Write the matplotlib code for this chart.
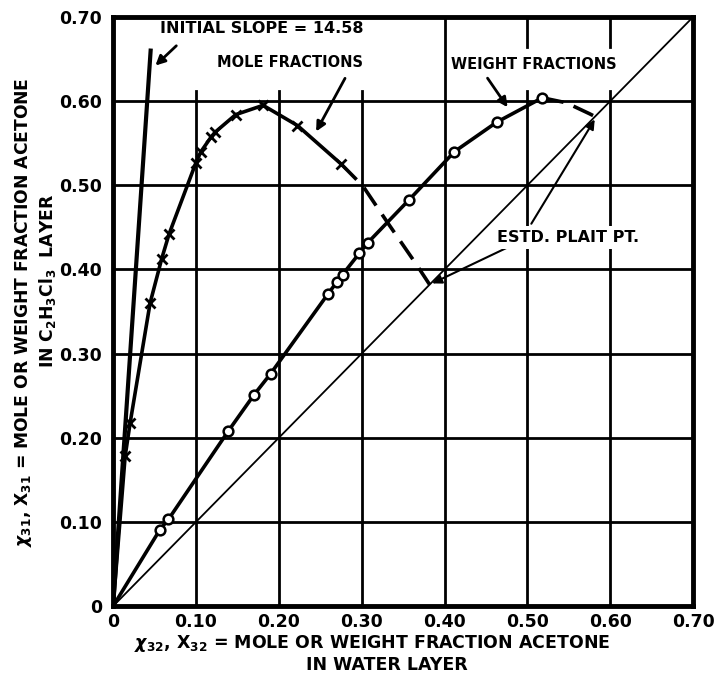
import numpy as np
import matplotlib
matplotlib.use('Agg')
import matplotlib.pyplot as plt

# mole fraction data (x32, x31)
mole_x = [0.0, 0.0145, 0.0205, 0.0446, 0.0587, 0.0675, 0.0996, 0.106, 0.118, 0.123, 0.148, 0.181, 0.2225, 0.2755]
mole_y = [0.0, 0.178, 0.2175, 0.360, 0.413, 0.442, 0.526, 0.540, 0.557, 0.563, 0.584, 0.595, 0.571, 0.525]
# estimated (dashed) continuation to plait point
mole_est_x = [0.2755, 0.3016, 0.331, 0.366, 0.382]
mole_est_y = [0.525, 0.499, 0.456, 0.406, 0.382]

# weight fraction data
wt_x = [0.0, 0.0566, 0.0667, 0.139, 0.170, 0.190, 0.2594, 0.270, 0.277, 0.297, 0.3076, 0.357, 0.412, 0.463, 0.518]
wt_y = [0.0, 0.091, 0.103, 0.208, 0.251, 0.276, 0.371, 0.385, 0.394, 0.419, 0.432, 0.4825, 0.540, 0.575, 0.604]
wt_est_x = [0.518, 0.547, 0.575, 0.583]
wt_est_y = [0.604, 0.598, 0.585, 0.581]

initial_slope = 14.58
slope_top = 0.66

ticks = [0, 0.1, 0.2, 0.3, 0.4, 0.5, 0.6, 0.7]
tick_labels = ['0', '0.10', '0.20', '0.30', '0.40', '0.50', '0.60', '0.70']


def main():
    plt.rcParams['font.family'] = 'DejaVu Sans'
    plt.rcParams['font.weight'] = 'bold'
    fig = plt.figure(figsize=(7.16, 6.78), dpi=100)
    ax = fig.add_axes([0.158, 0.106, 0.810, 0.869])
    ax.set_xlim(0, 0.7)
    ax.set_ylim(0, 0.7)

    # grid, broken in the top row where the labels sit
    for t in ticks[1:-1]:
        ax.plot([0, 0.7], [t, t], color='black', lw=2, zorder=1)
        if t < 0.35:
            ax.plot([t, t], [0, 0.612], color='black', lw=2, zorder=1)
        elif t < 0.45:
            ax.plot([t, t], [0, 0.7], color='black', lw=2, zorder=1)
        else:
            ax.plot([t, t], [0, 0.612], color='black', lw=2, zorder=1)
            ax.plot([t, t], [0.664, 0.7], color='black', lw=2, zorder=1)

    # y = x diagonal
    ax.plot([0, 0.7], [0, 0.7], color='black', lw=1.3, zorder=2)

    # initial slope line
    ax.plot([0, slope_top / initial_slope], [0, slope_top], color='black', lw=3, zorder=3)

    # mole fractions
    ax.plot(mole_x, mole_y, color='black', lw=2.6, zorder=3)
    ax.plot(mole_x[1:], mole_y[1:], ls='none', marker='x', ms=7, mew=2, color='black', zorder=4)
    ax.plot(mole_est_x, mole_est_y, color='black', lw=2.6, dashes=(6, 3), zorder=3)

    # weight fractions
    ax.plot(wt_x, wt_y, color='black', lw=2.6, zorder=3)
    ax.plot(wt_x[1:], wt_y[1:], ls='none', marker='o', ms=7, mew=1.8, mfc='white', mec='black', zorder=4)
    ax.plot(wt_est_x, wt_est_y, color='black', lw=2.6, dashes=(6, 3), zorder=3)

    arr = dict(arrowstyle='-|>', color='black', lw=2, mutation_scale=14)
    ax.text(0.057, 0.686, 'INITIAL SLOPE = 14.58', fontsize=11.5, ha='left', va='center')
    ax.annotate('', xy=(0.0486, 0.640), xytext=(0.0787, 0.668), arrowprops=arr)
    ax.text(0.213, 0.646, 'MOLE FRACTIONS', fontsize=10.5, ha='center', va='center')
    ax.annotate('', xy=(0.2434, 0.561), xytext=(0.2815, 0.630), arrowprops=arr)
    ax.text(0.508, 0.644, 'WEIGHT FRACTIONS', fontsize=10.5, ha='center', va='center')
    ax.annotate('', xy=(0.478, 0.590), xytext=(0.450, 0.630), arrowprops=arr)
    ax.text(0.549, 0.438, 'ESTD. PLAIT PT.', fontsize=11.5, ha='center', va='center', zorder=5,
            bbox=dict(fc='white', ec='none', pad=3))
    ax.annotate('', xy=(0.583, 0.581), xytext=(0.503, 0.4515), arrowprops=dict(arr, lw=1.5))
    ax.annotate('', xy=(0.382, 0.382), xytext=(0.480, 0.428), arrowprops=dict(arr, lw=1.5))

    ax.set_xticks(ticks)
    ax.set_xticklabels(tick_labels)
    ax.set_yticks(ticks)
    ax.set_yticklabels(tick_labels)
    ax.tick_params(length=0, labelsize=12.5)
    ax.tick_params(axis='x', pad=5)
    ax.tick_params(axis='y', pad=8)
    for s in ax.spines.values():
        s.set_linewidth(3.5)

    # axis labels
    ax.text(0.312, -0.044, r'$\chi_{32}$, X$_{32}$ = MOLE OR WEIGHT FRACTION ACETONE', fontsize=12.5,
            ha='center', va='center')
    ax.text(0.330, -0.070, 'IN WATER LAYER', fontsize=12.5, ha='center', va='center')
    ax.text(-0.108, 0.349, r'$\chi_{31}$, X$_{31}$ = MOLE OR WEIGHT FRACTION ACETONE', fontsize=12.3,
            ha='center', va='center', rotation=90)
    ax.text(-0.079, 0.386, r'IN C$_2$H$_3$Cl$_3$  LAYER', fontsize=12.3, ha='center', va='center', rotation=90)

    fig.savefig('out.png', dpi=100)


if __name__ == '__main__':
    main()
